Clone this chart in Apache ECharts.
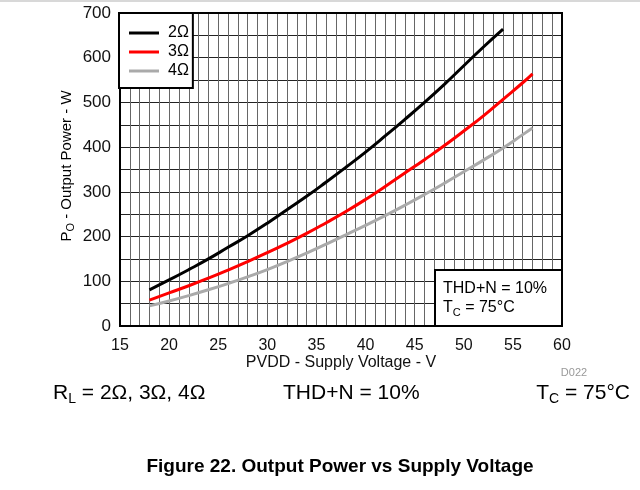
<!DOCTYPE html>
<html>
<head>
<meta charset="utf-8">
<script src="https://cdn.jsdelivr.net/npm/echarts@6/dist/echarts.min.js"></script>
<style>
html,body{margin:0;padding:0;background:#fff;}
#chart{width:640px;height:490px;}
</style>
</head>
<body>
<div id="chart"></div>
<script>
// ---- data ----
const seriesNames = ['2Ω', '3Ω', '4Ω'];
const volt2 = [18, 20, 22, 24, 26, 28, 30, 32, 34, 36, 38, 40, 42, 44, 46, 48, 50, 52, 54];
const power2 = [81, 103, 126, 150, 176, 202, 230, 260, 290, 322, 355, 389, 425, 462, 500, 540, 582, 624, 664];
const volt34 = [18, 20, 22, 24, 26, 28, 30, 32, 34, 36, 38, 40, 42, 44, 46, 48, 50, 52, 54, 56, 57];
const power3 = [58, 74, 90, 107, 125, 144, 164, 185, 207, 231, 256, 283, 312, 342, 372, 403, 436, 470, 507, 544, 564];
const power4 = [45, 56, 68, 81, 95, 110, 126, 144, 163, 183, 204, 225, 247, 270, 294, 319, 345, 371, 398, 428, 443];
const xTickLabels = [15, 20, 25, 30, 35, 40, 45, 50, 55, 60];
const yTickLabels = [0, 100, 200, 300, 400, 500, 600, 700];

const FONT = 'Liberation Sans, Arial, Helvetica, sans-serif';
const G = {left: 120, top: 13, right: 78, bottom: 164};
const GW = 640 - G.left - G.right, GH = 490 - G.top - G.bottom;

function pairs(xs, ys) { return xs.map((x, i) => [x, ys[i]]); }

const chart = echarts.init(document.getElementById('chart'), null, {renderer: 'canvas'});
const lineSeries = (name, data, color) => ({
  name, type: 'line', data, smooth: true, showSymbol: false, symbol: 'none',
  lineStyle: {color, width: 3}, itemStyle: {color}, z: 3, animation: false
});

chart.setOption({
  animation: false,
  backgroundColor: '#fff',
  grid: {left: G.left, top: G.top, right: G.right, bottom: G.bottom, containLabel: false},
  xAxis: {
    type: 'value', min: 15, max: 60, interval: 1,
    axisLine: {show: false}, axisTick: {show: false},
    axisLabel: {
      margin: 12, fontSize: 16, fontFamily: FONT, color: '#111',
      formatter: v => xTickLabels.includes(v) ? String(v) : ''
    },
    splitLine: {show: true, lineStyle: {color: '#666', width: 1}}
  },
  yAxis: {
    type: 'value', min: 0, max: 700, interval: 50,
    axisLine: {show: false}, axisTick: {show: false},
    axisLabel: {
      margin: 9, fontSize: 17, fontFamily: FONT, color: '#111',
      formatter: v => yTickLabels.includes(v) ? String(v) : ''
    },
    splitLine: {show: true, lineStyle: {color: '#222', width: 1}}
  },
  legend: {
    data: seriesNames,
    orient: 'vertical', left: 119, top: 13,
    icon: 'rect', itemWidth: 30, itemHeight: 3, itemGap: 3,
    backgroundColor: '#fff', borderColor: '#000', borderWidth: 2,
    padding: [12, 4, 9, 10],
    textStyle: {fontSize: 16, fontFamily: FONT, color: '#000', lineHeight: 16, padding: [0, 0, 0, 4]},
    z: 6
  },
  series: [
    lineSeries(seriesNames[0], pairs(volt2, power2), '#000000'),
    lineSeries(seriesNames[1], pairs(volt34, power3), '#ff0000'),
    lineSeries(seriesNames[2], pairs(volt34, power4), '#aaaaaa')
  ],
  graphic: [
    {type: 'rect', shape: {x: 0, y: 0, width: 640, height: 2}, style: {fill: '#d8d8d8'}, z: 1},
    {type: 'rect', shape: {x: G.left, y: G.top, width: GW, height: GH},
     style: {fill: 'none', stroke: '#000', lineWidth: 2}, z: 5},
    {type: 'rect', shape: {x: 435, y: 270, width: 562 - 435, height: 326 - 270},
     style: {fill: '#fff', stroke: '#000', lineWidth: 2}, z: 5},
    {type: 'text', x: 443, y: 289, z: 6,
     style: {text: 'THD+N = 10%', font: '16px ' + FONT, fill: '#000', verticalAlign: 'middle'}},
    {type: 'text', x: 443, y: 308, z: 6,
     style: {text: '{n|T}{s|C}{n| = 75°C}', verticalAlign: 'middle',
       rich: {n: {fontSize: 16, fontFamily: FONT, color: '#000', lineHeight: 20},
              s: {fontSize: 11, fontFamily: FONT, color: '#000', lineHeight: 12, verticalAlign: 'bottom'}}}},
    // x axis name
    {type: 'text', x: 341, y: 363, z: 6,
     style: {text: 'PVDD - Supply Voltage - V', font: '16px ' + FONT, fill: '#111', align: 'center', verticalAlign: 'middle'}},
    // y axis name
    {type: 'text', x: 67, y: 166, rotation: Math.PI / 2, z: 6,
     style: {text: '{n|P}{s|O}{n| - Output Power - W}', align: 'center', verticalAlign: 'middle',
       rich: {n: {fontSize: 15, fontFamily: FONT, color: '#111', lineHeight: 19},
              s: {fontSize: 11, fontFamily: FONT, color: '#111', lineHeight: 12, verticalAlign: 'bottom'}}}},
    {type: 'text', x: 574, y: 373, z: 6,
     style: {text: 'D022', font: '11px ' + FONT, fill: '#999', align: 'center', verticalAlign: 'middle'}},
    {type: 'text', x: 53, y: 393, z: 6,
     style: {text: '{n|R}{s|L}{n| = 2Ω, 3Ω, 4Ω}', verticalAlign: 'middle',
       rich: {n: {fontSize: 21, fontFamily: FONT, color: '#000', lineHeight: 26},
              s: {fontSize: 14, fontFamily: FONT, color: '#000', lineHeight: 15, verticalAlign: 'bottom'}}}},
    {type: 'text', x: 283, y: 393, z: 6,
     style: {text: 'THD+N = 10%', font: '21px ' + FONT, fill: '#000', verticalAlign: 'middle'}},
    {type: 'text', x: 630, y: 393, z: 6,
     style: {text: '{n|T}{s|C}{n| = 75°C}', align: 'right', verticalAlign: 'middle',
       rich: {n: {fontSize: 21, fontFamily: FONT, color: '#000', lineHeight: 26},
              s: {fontSize: 14, fontFamily: FONT, color: '#000', lineHeight: 15, verticalAlign: 'bottom'}}}},
    {type: 'text', x: 340, y: 467, z: 6,
     style: {text: 'Figure 22. Output Power vs Supply Voltage', font: 'bold 19px ' + FONT, fill: '#000',
       align: 'center', verticalAlign: 'middle'}}
  ]
});
</script>
</body>
</html>
